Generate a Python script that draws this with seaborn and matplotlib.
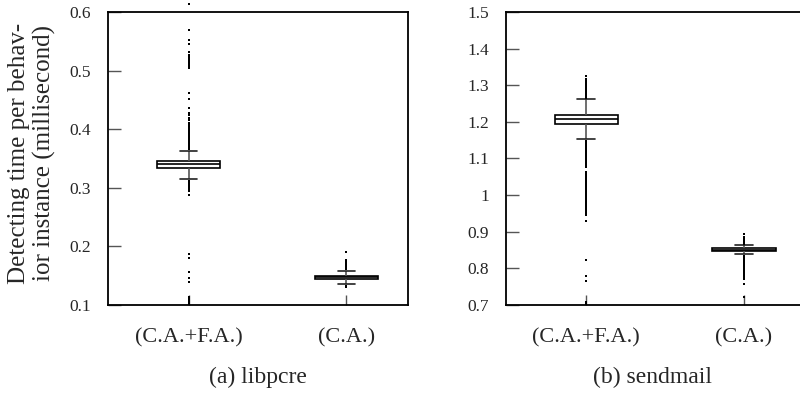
import matplotlib
matplotlib.use("Agg")
import matplotlib.pyplot as plt
import pandas as pd
import seaborn as sns

groups = ["(C.A.+F.A.)", "(C.A.)"]

# five-number summaries: lower whisker, q1, median, q3, upper whisker
libpcre_box_cafa = [0.315, 0.334, 0.340, 0.346, 0.363]
libpcre_box_ca = [0.135, 0.145, 0.147, 0.150, 0.158]
sendmail_box_cafa = [1.152, 1.193, 1.207, 1.220, 1.262]
sendmail_box_ca = [0.838, 0.846, 0.851, 0.856, 0.864]

# outliers
libpcre_out_cafa = [
    0.614, 0.570, 0.553, 0.545, 0.532, 0.527, 0.524, 0.521, 0.519, 0.517,
    0.515, 0.513, 0.511, 0.509, 0.506, 0.504, 0.461, 0.452, 0.436, 0.428,
    0.424, 0.419, 0.415, 0.411, 0.407, 0.404, 0.401, 0.398, 0.395, 0.393,
    0.390, 0.388, 0.386, 0.384, 0.382, 0.380, 0.378, 0.376, 0.374, 0.372,
    0.370, 0.368, 0.366,
    0.312, 0.310, 0.308, 0.306, 0.304, 0.302, 0.300, 0.298, 0.296, 0.294,
    0.288, 0.187, 0.181, 0.157, 0.146, 0.139, 0.113, 0.110, 0.107, 0.104,
    0.101,
]
libpcre_out_ca = [
    0.191, 0.177, 0.175, 0.173, 0.171, 0.169, 0.167, 0.165, 0.163, 0.161,
    0.133, 0.131,
]
sendmail_out_cafa = [
    1.325, 1.318, 1.311, 1.306, 1.302, 1.299, 1.296, 1.293, 1.290, 1.287,
    1.284, 1.281, 1.278, 1.275, 1.272, 1.269, 1.266, 1.264,
    1.148, 1.144, 1.140, 1.136, 1.132, 1.127, 1.122, 1.117, 1.112, 1.107,
    1.102, 1.097, 1.092, 1.087, 1.082, 1.077,
    1.062, 1.058, 1.054, 1.050, 1.046, 1.042, 1.038, 1.034, 1.030, 1.026,
    1.022, 1.018, 1.014, 1.010, 1.006, 1.002, 0.998, 0.994, 0.990, 0.986,
    0.982, 0.978, 0.974, 0.970, 0.966, 0.962, 0.958, 0.954, 0.950, 0.946,
    0.930, 0.822, 0.778, 0.765, 0.708, 0.704,
]
sendmail_out_ca = [
    0.893, 0.886, 0.880, 0.876, 0.873, 0.870, 0.867,
    0.835, 0.832, 0.829, 0.826, 0.823, 0.820, 0.817, 0.814, 0.811, 0.808,
    0.805, 0.802, 0.799, 0.796, 0.793, 0.790, 0.787, 0.784, 0.781, 0.778,
    0.775, 0.772, 0.756, 0.722,
]

libpcre_yticks = [0.1, 0.2, 0.3, 0.4, 0.5, 0.6]
libpcre_yticklabels = ["0.1", "0.2", "0.3", "0.4", "0.5", "0.6"]
sendmail_yticks = [0.7, 0.8, 0.9, 1.0, 1.1, 1.2, 1.3, 1.4, 1.5]
sendmail_yticklabels = ["0.7", "0.8", "0.9", "1", "1.1", "1.2", "1.3", "1.4", "1.5"]

panels = [
    ("(a) libpcre", libpcre_box_cafa, libpcre_box_ca, libpcre_out_cafa, libpcre_out_ca,
     libpcre_yticks, libpcre_yticklabels),
    ("(b) sendmail", sendmail_box_cafa, sendmail_box_ca, sendmail_out_cafa, sendmail_out_ca,
     sendmail_yticks, sendmail_yticklabels),
]

sns.set_style("white")
plt.rcParams["font.family"] = ["Liberation Serif", "DejaVu Serif"]

fig = plt.figure(figsize=(8, 3.93), dpi=100)
axes = [
    fig.add_axes([0.135, 0.224, 0.375, 0.7455]),
    fig.add_axes([0.632, 0.224, 0.375, 0.7455]),
]

for ax, (caption, box_a, box_b, out_a, out_b, yt, ytl) in zip(axes, panels):
    box_df = pd.DataFrame({
        "group": [groups[0]] * len(box_a) + [groups[1]] * len(box_b),
        "value": box_a + box_b,
    })
    out_df = pd.DataFrame({
        "group": [groups[0]] * len(out_a) + [groups[1]] * len(out_b),
        "value": out_a + out_b,
    })

    sns.stripplot(data=out_df, x="group", y="value", order=groups, jitter=False,
                  size=2.0, color="black", marker="s", linewidth=0, ax=ax)
    for coll in ax.collections:
        coll.set_clip_on(False)

    sns.boxplot(data=box_df, x="group", y="value", order=groups, whis=(0, 100),
                width=0.4, showfliers=False, color="white", linecolor="black",
                linewidth=1.2, ax=ax, capwidths=0.11,
                whiskerprops={"color": "#555555"}, capprops={"color": "#222222"})

    ax.set_xlim(-0.51, 1.39)
    ax.set_ylim(yt[0], yt[-1])
    ax.set_yticks(yt)
    ax.set_yticklabels(ytl, fontsize=12.5)
    ax.tick_params(axis="x", labelsize=16, pad=17)
    ax.tick_params(axis="y", pad=12)
    ax.tick_params(direction="in", length=9, width=1, color="#555555",
                   left=True, bottom=True, top=False, right=False)
    ax.tick_params(axis="x", length=7)
    ax.set_xlabel("")
    ax.set_ylabel("")
    for sp in ax.spines.values():
        sp.set_visible(True)
        sp.set_color("black")
        sp.set_linewidth(1.3)

    pos = ax.get_position()
    cx = (pos.x0 + min(pos.x1, 1.0)) / 2
    fig.text(cx, 1 - 377 / 393, caption, ha="center", va="center", fontsize=17)

fig.text(32 / 800, 1 - 153 / 393, "Detecting time per behav-\nior instance (millisecond)",
         rotation=90, ha="center", va="center", fontsize=18, linespacing=1.15)

fig.savefig("out.png", dpi=100)
